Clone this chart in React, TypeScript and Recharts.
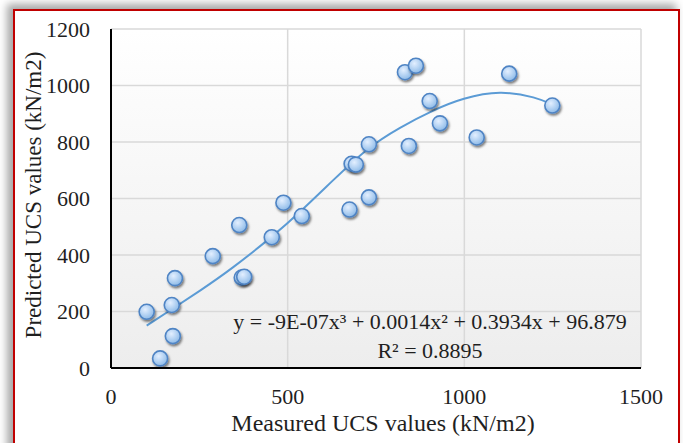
import React from 'react';
import { ComposedChart, Scatter, Line, XAxis, YAxis, CartesianGrid } from 'recharts';

// Measured vs predicted UCS (kN/m2)
const measured = [101, 172, 181, 175, 139, 288, 363, 370, 377, 455, 488, 540, 675, 730, 681, 693, 730, 843, 832, 863, 902, 931, 1035, 1127, 1249];
const predicted = [199, 223, 318, 113, 34, 396, 506, 320, 323, 463, 585, 538, 561, 604, 723, 720, 792, 786, 1047, 1070, 945, 866, 816, 1042, 929];

// Polynomial trendline as drawn
const trendX = [101, 172, 252, 346, 455, 535, 629, 724, 818, 912, 999, 1101, 1195, 1249];
const trendY = [150, 208, 274, 357, 465, 553, 665, 772, 850, 911, 953, 974, 958, 933];

const xTicks = [0, 500, 1000, 1500];
const yTicks = [0, 200, 400, 600, 800, 1000, 1200];

const xTitle = 'Measured UCS values (kN/m2)';
const yTitle = 'Predicted UCS values (kN/m2)';
const equation = 'y = -9E-07x\u00B3 + 0.0014x\u00B2 + 0.3934x + 96.879';
const r2Text = 'R\u00B2 = 0.8895';

const points = measured.map((x, i) => ({ x, y: predicted[i] }));
const trend = trendX.map((x, i) => ({ x, y: trendY[i] }));

const FONT = "'Palatino Linotype', 'Book Antiqua', Palatino, 'Liberation Serif', serif";
const TEXT = '#1f1f1f';

const Dot = (props: any) => {
  const { cx, cy } = props;
  if (cx == null || cy == null) return null;
  return (
    <circle cx={cx} cy={cy} r={7.5} fill="url(#dotFill)" stroke="#4f84c4" strokeWidth={1.6} filter="url(#dotShadow)" />
  );
};

export default function App() {
  return (
    <div style={{ position: 'absolute', left: 0, top: 0, width: 683, height: 443, overflow: 'hidden', background: '#fff' }}>
      <div
        style={{
          position: 'absolute',
          left: 13,
          top: 9,
          width: 667,
          height: 460,
          boxSizing: 'border-box',
          border: '2px solid #c00000',
          boxShadow: '-5px -4px 8px 1px rgba(0,0,0,0.35)',
          background: '#fff',
        }}
      />
      <div style={{ position: 'absolute', left: 0, top: 0 }}>
        <ComposedChart width={683} height={443} margin={{ top: 29, right: 42, bottom: 0, left: 0 }}>
          <defs>
            <linearGradient id="plotBg" x1="0" y1="0" x2="0" y2="1">
              <stop offset="0%" stopColor="#ffffff" />
              <stop offset="100%" stopColor="#ededed" />
            </linearGradient>
            <radialGradient id="dotFill" cx="40%" cy="35%" r="65%">
              <stop offset="0%" stopColor="#e3efff" />
              <stop offset="55%" stopColor="#b5d3f3" />
              <stop offset="100%" stopColor="#8fbbe8" />
            </radialGradient>
            <filter id="dotShadow" x="-50%" y="-50%" width="200%" height="200%">
              <feDropShadow dx="1.2" dy="2" stdDeviation="1.3" floodColor="#000" floodOpacity="0.5" />
            </filter>
          </defs>
          <CartesianGrid stroke="#d9d9d9" strokeWidth={1.5} fill="url(#plotBg)" fillOpacity={1} />
          <XAxis
            type="number"
            dataKey="x"
            domain={[0, 1500]}
            ticks={xTicks}
            height={75}
            tickSize={0}
            tickMargin={20}
            axisLine={{ stroke: '#000', strokeWidth: 2 }}
            tickLine={false}
            tick={{ fill: TEXT, fontSize: 22, fontFamily: FONT }}
            allowDataOverflow
          />
          <YAxis
            type="number"
            dataKey="y"
            domain={[0, 1200]}
            ticks={yTicks}
            width={111}
            tickSize={0}
            tickMargin={21}
            axisLine={{ stroke: '#000', strokeWidth: 2 }}
            tickLine={false}
            tick={{ fill: TEXT, fontSize: 22, fontFamily: FONT }}
            allowDataOverflow
          />
          <Scatter data={points} dataKey="y" shape={<Dot />} isAnimationActive={false} />
          <Line
            data={trend}
            dataKey="y"
            type="natural"
            stroke="#5b9bd5"
            strokeWidth={2}
            dot={false}
            activeDot={false}
            isAnimationActive={false}
          />
        </ComposedChart>
      </div>
      <svg width={683} height={443} style={{ position: 'absolute', left: 0, top: 0, pointerEvents: 'none' }}>
        <text x={430} y={329} textAnchor="middle" fontFamily={FONT} fontSize={22} fill={TEXT}>{equation}</text>
        <text x={430} y={358} textAnchor="middle" fontFamily={FONT} fontSize={22} fill={TEXT}>{r2Text}</text>
        <text x={383} y={431} textAnchor="middle" fontFamily={FONT} fontSize={24} fill={TEXT}>{xTitle}</text>
        <text
          x={0}
          y={0}
          transform="translate(41,195) rotate(-90)"
          textAnchor="middle"
          fontFamily={FONT}
          fontSize={23}
          fill={TEXT}
        >
          {yTitle}
        </text>
      </svg>
    </div>
  );
}
